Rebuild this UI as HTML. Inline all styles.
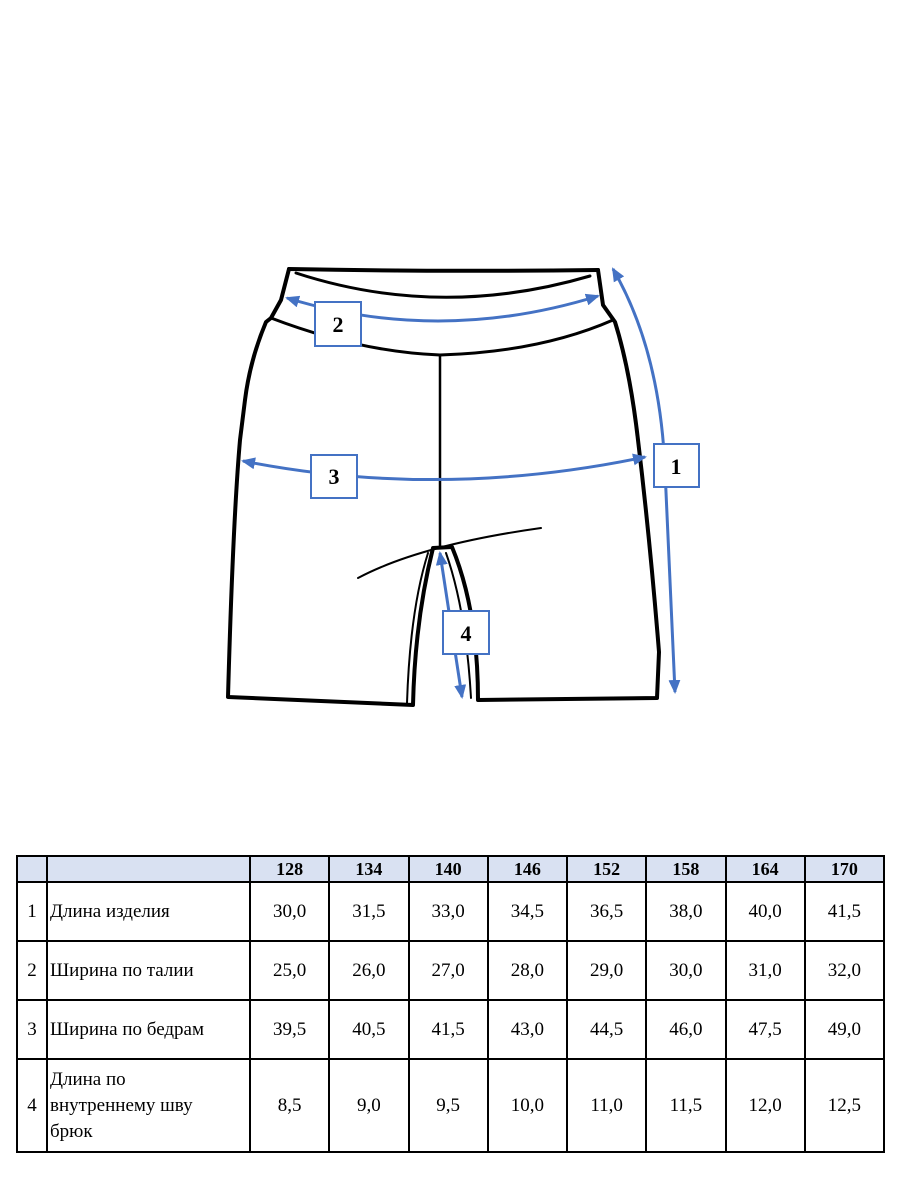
<!DOCTYPE html>
<html><head><meta charset="utf-8"><style>
body{margin:0;background:#fff;width:900px;height:1200px;position:relative;font-family:"Liberation Serif",serif}
svg{position:absolute;left:0;top:0}
table{position:absolute;left:16px;top:855px;border-collapse:collapse;width:869px;font-size:19px}
td{border:2px solid #000;text-align:center;padding:0}
tr.h td{background:#d9e1f2;font-weight:bold;height:24px;font-size:18px}
td.l{text-align:left;padding-left:2px}
</style></head><body>
<svg width="900" height="800" viewBox="0 0 900 800">
<defs>
<marker id="b" markerWidth="14" markerHeight="12" refX="12" refY="6" orient="auto-start-reverse" markerUnits="userSpaceOnUse"><path d="M0,0 L14,6 L0,12z" fill="#4472c4"/></marker></defs>
<g fill="none" stroke="#000" stroke-width="4" stroke-linejoin="round" stroke-linecap="round">
<path d="M289,269 Q440,272 598,270"/>
<path d="M296,273 Q440,320 590,276" stroke-width="3"/>
<path d="M289,269 L281,300 L271,318 L266,322 Q250,360 245,400 L240,440 Q233,520 228,697 L413,705 Q415,620 433,548 L452,547 Q478,610 478,700 L657,698 L659,652 Q650,540 638,440 Q630,370 615,322 L603,305 L598,270"/>
<path d="M271,318 Q360,352 440,355 Q540,352 613,320" stroke-width="3"/>
<path d="M440,355 L440,546" stroke-width="2.5"/>
<path d="M358,578 Q420,545 541,528" stroke-width="2"/>
<path d="M407,703 Q410,610 428,553 M471,698 Q466,610 446,553" stroke-width="2"/>
</g>
<g fill="none" stroke="#4472c4" stroke-width="3">
<path d="M287,298 Q440,345 598,296" marker-start="url(#b)" marker-end="url(#b)"/>
<path d="M243,461 Q440,500 645,457" marker-start="url(#b)" marker-end="url(#b)"/>
<path d="M613,269 Q660,350 665,470 L675,692" marker-start="url(#b)" marker-end="url(#b)"/>
<path d="M440,553 L462,697" marker-start="url(#b)" marker-end="url(#b)"/>
</g>
<g fill="#fff" stroke="#4472c4" stroke-width="2">
<rect x="315" y="302" width="46" height="44"/>
<rect x="311" y="455" width="46" height="43"/>
<rect x="654" y="444" width="45" height="43"/>
<rect x="443" y="611" width="46" height="43"/>
</g>
<g font-family="Liberation Serif,serif" font-weight="bold" font-size="22" text-anchor="middle">
<text x="338" y="332">2</text><text x="334" y="484">3</text><text x="676" y="474">1</text><text x="466" y="641">4</text>
</g>
</svg>
<table>
<tr class="h"><td style="width:28px"></td><td style="width:201px"></td><td>128</td><td>134</td><td>140</td><td>146</td><td>152</td><td>158</td><td>164</td><td>170</td></tr>
<tr style="height:59px"><td>1</td><td class="l">Длина изделия</td><td>30,0</td><td>31,5</td><td>33,0</td><td>34,5</td><td>36,5</td><td>38,0</td><td>40,0</td><td>41,5</td></tr>
<tr style="height:59px"><td>2</td><td class="l">Ширина по талии</td><td>25,0</td><td>26,0</td><td>27,0</td><td>28,0</td><td>29,0</td><td>30,0</td><td>31,0</td><td>32,0</td></tr>
<tr style="height:59px"><td>3</td><td class="l">Ширина по бедрам</td><td>39,5</td><td>40,5</td><td>41,5</td><td>43,0</td><td>44,5</td><td>46,0</td><td>47,5</td><td>49,0</td></tr>
<tr style="height:93px"><td>4</td><td class="l" style="line-height:26px">Длина по<br>внутреннему шву<br>брюк</td><td>8,5</td><td>9,0</td><td>9,5</td><td>10,0</td><td>11,0</td><td>11,5</td><td>12,0</td><td>12,5</td></tr>
</table>
</body></html>
